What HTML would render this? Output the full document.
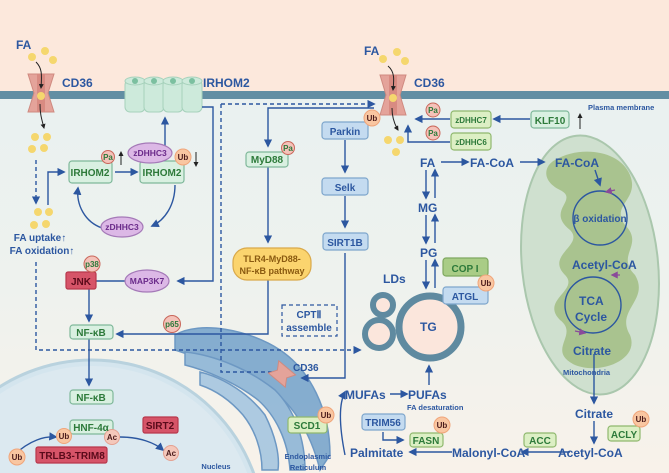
<!DOCTYPE html>
<html><head><meta charset="utf-8"><style>
html,body{margin:0;padding:0;width:669px;height:473px;overflow:hidden;}
svg{display:block;font-family:"Liberation Sans",Arial,sans-serif;font-weight:bold;}
</style></head><body>
<svg width="669" height="473" viewBox="0 0 669 473" xmlns="http://www.w3.org/2000/svg">
<defs>
<linearGradient id="bg" x1="0" y1="0" x2="0" y2="1">
<stop offset="0" stop-color="#e7f0f1"/><stop offset="0.6" stop-color="#eef2ee"/><stop offset="1" stop-color="#f8f2ea"/>
</linearGradient>
<marker id="a" viewBox="0 0 10 10" refX="8" refY="5" markerWidth="6" markerHeight="6" orient="auto"><path d="M0,0L10,5L0,10z" fill="#2c57a0"/></marker>
<marker id="k" viewBox="0 0 10 10" refX="8" refY="5" markerWidth="5" markerHeight="5" orient="auto"><path d="M0,0L10,5L0,10z" fill="#222"/></marker>
<marker id="p" viewBox="0 0 10 10" refX="8" refY="5" markerWidth="6" markerHeight="6" orient="auto"><path d="M0,0L10,5L0,10z" fill="#8a4a9a"/></marker>
<clipPath id="c"><rect width="669" height="473"/></clipPath>
</defs>
<g clip-path="url(#c)">
<rect width="669" height="473" fill="url(#bg)"/>
<rect width="669" height="92" fill="#fce8dc"/>
<rect y="91" width="669" height="8" fill="#628ea3"/>

<!-- nucleus -->
<circle cx="92" cy="532" r="172" fill="#d4e5ee" stroke="#b9d2de" stroke-width="3"/>
<circle cx="92" cy="532" r="166" fill="#dce9f0"/>
<!-- ER -->
<g fill="#7aa6cc" stroke="#5f8fbf" stroke-width="1.5" opacity="0.9">
<path d="M175,335 C200,320 250,330 280,350 C310,370 330,410 330,455 L320,470 C310,430 290,400 265,385 C240,370 205,360 175,350z"/>
<path d="M185,352 C215,355 250,370 275,390 C295,410 305,440 305,470 L290,470 C288,440 275,415 258,400 C235,382 205,370 185,365z" fill="#8eb6d6"/>
<path d="M200,372 C225,378 250,395 265,415 C275,435 280,455 278,470 L262,470 C262,450 255,430 243,415 C230,400 215,390 200,385z" fill="#a6c6e0"/>
</g>

<!-- mitochondria -->
<ellipse cx="590" cy="265" rx="68" ry="130" transform="rotate(-6 590 265)" fill="#cfe0cf" stroke="#aac7ad" stroke-width="2"/>
<path d="M555,160 C580,145 620,150 630,175 C640,200 610,205 625,225 C645,245 615,255 635,275 C650,300 615,310 630,335 C640,360 600,375 575,365 C545,350 580,335 560,320 C540,300 580,290 565,275 C545,255 585,245 570,230 C545,210 580,200 560,190 C540,180 545,165 555,160z" fill="#a9c38f"/>

<!-- CD36 left -->
<g><path d="M28,74 h26 l-6,19 l6,19 h-26 l6,-19z" fill="#e4a39a" stroke="#cf8a80"/><rect x="37" y="74" width="8" height="38" fill="#d88b82"/></g>
<!-- CD36 right -->
<g><path d="M380,75 h26 l-6,20 l6,20 h-26 l6,-20z" fill="#e4a39a" stroke="#cf8a80"/><rect x="389" y="75" width="8" height="40" fill="#d88b82"/></g>
<!-- IRHOM2 barrel -->
<g fill="#cdeadb" stroke="#a6d1bb">
<rect x="125" y="80" width="20" height="32" rx="5"/><rect x="144" y="80" width="20" height="32" rx="5"/><rect x="163" y="80" width="20" height="32" rx="5"/><rect x="182" y="80" width="20" height="32" rx="5"/>
<ellipse cx="135" cy="81" rx="10" ry="4"/><ellipse cx="154" cy="81" rx="10" ry="4"/><ellipse cx="173" cy="81" rx="10" ry="4"/><ellipse cx="192" cy="81" rx="10" ry="4"/>
</g>
<g fill="#7cc0a0"><circle cx="135" cy="81" r="3"/><circle cx="154" cy="81" r="3"/><circle cx="173" cy="81" r="3"/><circle cx="192" cy="81" r="3"/></g>

<!-- FA dots -->
<g fill="#f5d76e">
<circle cx="32" cy="57" r="4"/><circle cx="45" cy="51" r="4"/><circle cx="53" cy="60" r="4"/><circle cx="41" cy="96" r="4"/>
<circle cx="35" cy="137" r="4"/><circle cx="47" cy="137" r="4"/><circle cx="32" cy="149" r="4"/><circle cx="44" cy="148" r="4"/>
<circle cx="38" cy="212" r="4"/><circle cx="49" cy="212" r="4"/><circle cx="34" cy="225" r="4"/><circle cx="46" cy="224" r="4"/>
<circle cx="383" cy="59" r="4"/><circle cx="397" cy="52" r="4"/><circle cx="405" cy="61" r="4"/><circle cx="393" cy="98" r="4"/>
<circle cx="388" cy="140" r="4"/><circle cx="400" cy="140" r="4"/><circle cx="396" cy="152" r="4"/>
</g>
<g stroke="#222" fill="none" stroke-width="1">
<path d="M36,62 C42,68 42,74 41,88" marker-end="url(#k)"/><path d="M40,104 C40,115 42,120 44,128" marker-end="url(#k)"/>
<path d="M388,66 C395,72 394,80 393,90" marker-end="url(#k)"/><path d="M392,108 C392,118 395,125 398,130" marker-end="url(#k)"/>
<path d="M121,165 V152" marker-end="url(#k)"/><path d="M196,152 V166" marker-end="url(#k)"/><path d="M580,129 V114" marker-end="url(#k)"/>
</g>

<!-- blue connectors -->
<g stroke="#2c57a0" fill="none" stroke-width="1.4">
<path d="M36,160 V203" stroke-dasharray="4,3" marker-end="url(#a)"/>
<path d="M48,205 V172 H64" marker-end="url(#a)"/>
<path d="M115,172 H137" marker-end="url(#a)"/>
<path d="M165,158 V118" marker-end="url(#a)"/>
<path d="M175,185 C175,205 165,220 152,226" marker-end="url(#a)"/>
<path d="M102,228 C85,222 76,205 78,188" marker-end="url(#a)"/>
<path d="M202,107 H213 V281 H178" marker-end="url(#a)"/>
<path d="M95,281 H125"/>
<path d="M89,289 V321" marker-end="url(#a)"/>
<path d="M89,339 V385" marker-end="url(#a)"/>
<path d="M268,280 V334 H117" marker-end="url(#a)"/>
<path d="M36,262 V350 H340" stroke-dasharray="4,3"/>
<path d="M221,104 V372 H272" stroke-dasharray="4,3"/>
<path d="M221,104 H374" stroke-dasharray="4,3" marker-end="url(#a)"/>
<path d="M374,108 H268 V146" marker-end="url(#a)"/>
<path d="M268,164 V242" marker-end="url(#a)"/>
<path d="M345,140 V172" marker-end="url(#a)"/>
<path d="M345,196 V227" marker-end="url(#a)"/>
<path d="M345,253 V378 H302" marker-end="url(#a)"/>
<path d="M340,350 H360" stroke-dasharray="4,3" marker-end="url(#a)"/>
<path d="M450,119 H416" marker-end="url(#a)"/>
<path d="M530,119 H494" marker-end="url(#a)"/>
<path d="M450,142 H408 V126" marker-end="url(#a)"/>
<path d="M441,162 H468" marker-end="url(#a)"/>
<path d="M520,162 H544" marker-end="url(#a)"/>
<path d="M426,170 V198" marker-end="url(#a)"/><path d="M435,198 V170" marker-end="url(#a)"/>
<path d="M426,215 V243" marker-end="url(#a)"/><path d="M435,243 V215" marker-end="url(#a)"/>
<path d="M426,260 V288" marker-end="url(#a)"/><path d="M435,288 V260" marker-end="url(#a)"/>
<path d="M429,385 V366" marker-end="url(#a)"/>
<path d="M390,394 H407" marker-end="url(#a)"/>
<path d="M594,354 V403" marker-end="url(#a)"/>
<path d="M594,421 V443" marker-end="url(#a)"/>
<path d="M570,452 H522" marker-end="url(#a)"/>
<path d="M452,452 H410" marker-end="url(#a)"/>
<path d="M383,432 V440 H403" marker-end="url(#a)"/>
<path d="M345,455 C340,430 338,405 345,392" marker-end="url(#a)"/>
<path d="M595,170 L600,185" marker-end="url(#a)"/>
<circle cx="600" cy="218" r="27"/>
<circle cx="593" cy="305" r="28"/>
<path d="M14,455 C30,440 45,436 56,437" marker-end="url(#a)"/>
<path d="M120,437 C140,437 155,443 163,450" marker-end="url(#a)"/>
</g>
<path d="M615,190 L606,192" stroke="#8a4a9a" stroke-width="1.2" marker-end="url(#p)"/>
<path d="M620,275 L612,275" stroke="#8a4a9a" stroke-width="1.2" marker-end="url(#p)"/>
<path d="M575,331 L585,333" stroke="#8a4a9a" stroke-width="1.2" marker-end="url(#p)"/>

<!-- lipid droplets -->
<g fill="#fbe6dc" stroke="#5f8aa0">
<circle cx="430" cy="327" r="31" stroke-width="7"/>
<circle cx="383" cy="305" r="10" stroke-width="6"/>
<circle cx="379" cy="334" r="14" stroke-width="6"/>
</g>
<g transform="rotate(40 282 374)"><path d="M271,366 h22 l-5,8 l5,8 h-22 l5,-8z" fill="#e4a39a" stroke="#cf8a80"/></g>

<!-- boxes -->
<g stroke-width="1.2">
<g fill="#d9f0e1" stroke="#7fb89a">
<rect x="69" y="161" width="43" height="22" rx="3"/><rect x="140" y="161" width="44" height="22" rx="3"/>
<rect x="246" y="152" width="42" height="15" rx="3"/>
<rect x="70" y="325" width="43" height="14" rx="3"/><rect x="70" y="390" width="43" height="14" rx="3"/>
<rect x="70" y="420" width="43" height="14" rx="3"/>
<rect x="531" y="111" width="38" height="17" rx="3"/>
</g>
<g fill="#dcefc4" stroke="#8fb86e">
<rect x="451" y="111" width="40" height="17" rx="3"/><rect x="451" y="133" width="40" height="17" rx="3"/>
<rect x="288" y="417" width="39" height="16" rx="3"/><rect x="410" y="433" width="33" height="14" rx="3"/>
<rect x="524" y="433" width="32" height="14" rx="3"/><rect x="608" y="426" width="32" height="15" rx="3"/>
</g>
<rect x="443" y="258" width="45" height="18" rx="3" fill="#a9cc86" stroke="#7fa860"/>
<g fill="#c4dbf0" stroke="#7ea6cc">
<rect x="322" y="122" width="46" height="17" rx="3"/><rect x="322" y="178" width="46" height="17" rx="3"/><rect x="323" y="233" width="45" height="17" rx="3"/>
<rect x="443" y="287" width="45" height="17" rx="3"/><rect x="362" y="414" width="43" height="16" rx="3"/>
</g>
<g fill="#d65468" stroke="#b8384c">
<rect x="66" y="272" width="30" height="17" rx="2"/><rect x="143" y="417" width="35" height="16" rx="2"/><rect x="36" y="447" width="71" height="16" rx="2"/>
</g>
<rect x="233" y="248" width="78" height="32" rx="14" fill="#fbd46e" stroke="#d9a94a"/>
<rect x="282" y="305" width="55" height="31" fill="none" stroke="#2c57a0" stroke-dasharray="4,3"/>
<g fill="#dcb8e6" stroke="#a57ab8">
<ellipse cx="150" cy="153" rx="22" ry="10"/><ellipse cx="122" cy="227" rx="21" ry="10"/><ellipse cx="147" cy="281" rx="22" ry="11"/>
</g>
</g>

<!-- badges -->
<g stroke="#c9675a" fill="#f4c2b9">
<circle cx="108" cy="157" r="6.5"/><circle cx="288" cy="148" r="6.5"/><circle cx="433" cy="110" r="7"/><circle cx="433" cy="133" r="7"/>
<circle cx="92" cy="264" r="8"/><circle cx="172" cy="324" r="8.5"/>
</g>
<g fill="#f9c6a1" stroke="#f0a57a">
<circle cx="183" cy="157" r="8"/><circle cx="372" cy="118" r="8"/><circle cx="486" cy="283" r="8"/><circle cx="442" cy="425" r="8"/>
<circle cx="641" cy="419" r="8"/><circle cx="326" cy="415" r="8"/><circle cx="64" cy="436" r="7.5"/><circle cx="17" cy="457" r="8"/>
</g>
<g fill="#f4c8bb" stroke="#e4a090"><circle cx="112" cy="437" r="7.5"/><circle cx="171" cy="453" r="7.5"/></g>

<!-- text -->
<g fill="#2c57a0" font-size="12">
<text x="16" y="49">FA</text><text x="62" y="87">CD36</text><text x="203" y="87">IRHOM2</text>
<text x="364" y="55">FA</text><text x="414" y="87">CD36</text>
<text x="420" y="167">FA</text><text x="470" y="167">FA-CoA</text><text x="555" y="167">FA-CoA</text>
<text x="418" y="212">MG</text><text x="420" y="257">PG</text><text x="383" y="283">LDs</text>
<text x="420" y="331">TG</text>
<text x="345" y="399">MUFAs</text><text x="408" y="399">PUFAs</text>
<text x="350" y="457">Palmitate</text><text x="452" y="457">Malonyl-CoA</text><text x="558" y="457">Acetyl-CoA</text>
<text x="575" y="418">Citrate</text><text x="572" y="269">Acetyl-CoA</text><text x="573" y="355">Citrate</text>
<text x="579" y="305">TCA</text><text x="575" y="321">Cycle</text>
</g>
<g fill="#2c57a0" font-size="10">
<text x="40" y="241" text-anchor="middle">FA uptake↑</text><text x="42" y="254" text-anchor="middle">FA oxidation↑</text>
<text x="309" y="318" text-anchor="middle">CPTⅡ</text><text x="309" y="331" text-anchor="middle">assemble</text>
<text x="293" y="371">CD36</text>
<text x="600" y="222" text-anchor="middle">β oxidation</text>
<text x="345" y="135" text-anchor="middle">Parkin</text><text x="345" y="191" text-anchor="middle">Selk</text><text x="345" y="246" text-anchor="middle">SIRT1B</text>
<text x="465" y="300" text-anchor="middle">ATGL</text><text x="383" y="426" text-anchor="middle">TRIM56</text>
</g>
<g fill="#2c57a0" font-size="7.5">
<text x="588" y="110">Plasma membrane</text><text x="563" y="375">Mitochondria</text><text x="407" y="410">FA desaturation</text>
<text x="216" y="469" text-anchor="middle">Nucleus</text><text x="308" y="459" text-anchor="middle">Endoplasmic</text><text x="308" y="470" text-anchor="middle">Reticulum</text>
</g>
<g fill="#2d7a3a" font-size="10" text-anchor="middle">
<text x="90" y="176">IRHOM2</text><text x="162" y="176">IRHOM2</text><text x="267" y="163">MyD88</text>
<text x="91" y="336">NF-κB</text><text x="91" y="401">NF-κB</text><text x="91" y="431">HNF-4α</text>
<text x="550" y="124">KLF10</text><text x="307" y="429">SCD1</text><text x="426" y="444">FASN</text>
<text x="540" y="444">ACC</text><text x="624" y="438">ACLY</text><text x="465" y="272">COP I</text>
</g>
<g fill="#2d7a3a" font-size="8" text-anchor="middle">
<text x="471" y="123">zDHHC7</text><text x="471" y="145">zDHHC6</text>
<text x="108" y="160">Pa</text><text x="288" y="151">Pa</text><text x="433" y="113">Pa</text><text x="433" y="136">Pa</text>
<text x="92" y="267">p38</text><text x="172" y="327">p65</text>
</g>
<g fill="#6a2a8a" font-size="8.5" text-anchor="middle">
<text x="150" y="156">zDHHC3</text><text x="122" y="230">zDHHC3</text><text x="147" y="284">MAP3K7</text>
</g>
<g fill="#4a1a1a" font-size="8" text-anchor="middle">
<text x="183" y="160">Ub</text><text x="372" y="121">Ub</text><text x="486" y="286">Ub</text><text x="442" y="428">Ub</text>
<text x="641" y="422">Ub</text><text x="326" y="418">Ub</text><text x="64" y="439">Ub</text><text x="17" y="460">Ub</text>
<text x="112" y="440">Ac</text><text x="171" y="456">Ac</text>
</g>
<g fill="#5a0a1a" font-size="10" text-anchor="middle">
<text x="81" y="285">JNK</text><text x="160" y="429">SIRT2</text><text x="72" y="459">TRLB3-TRIM8</text>
</g>
<g fill="#8a5a10" font-size="9" text-anchor="middle">
<text x="272" y="262">TLR4-MyD88-</text><text x="272" y="274">NF-κB pathway</text>
</g>
</g>
</svg>
</body></html>
